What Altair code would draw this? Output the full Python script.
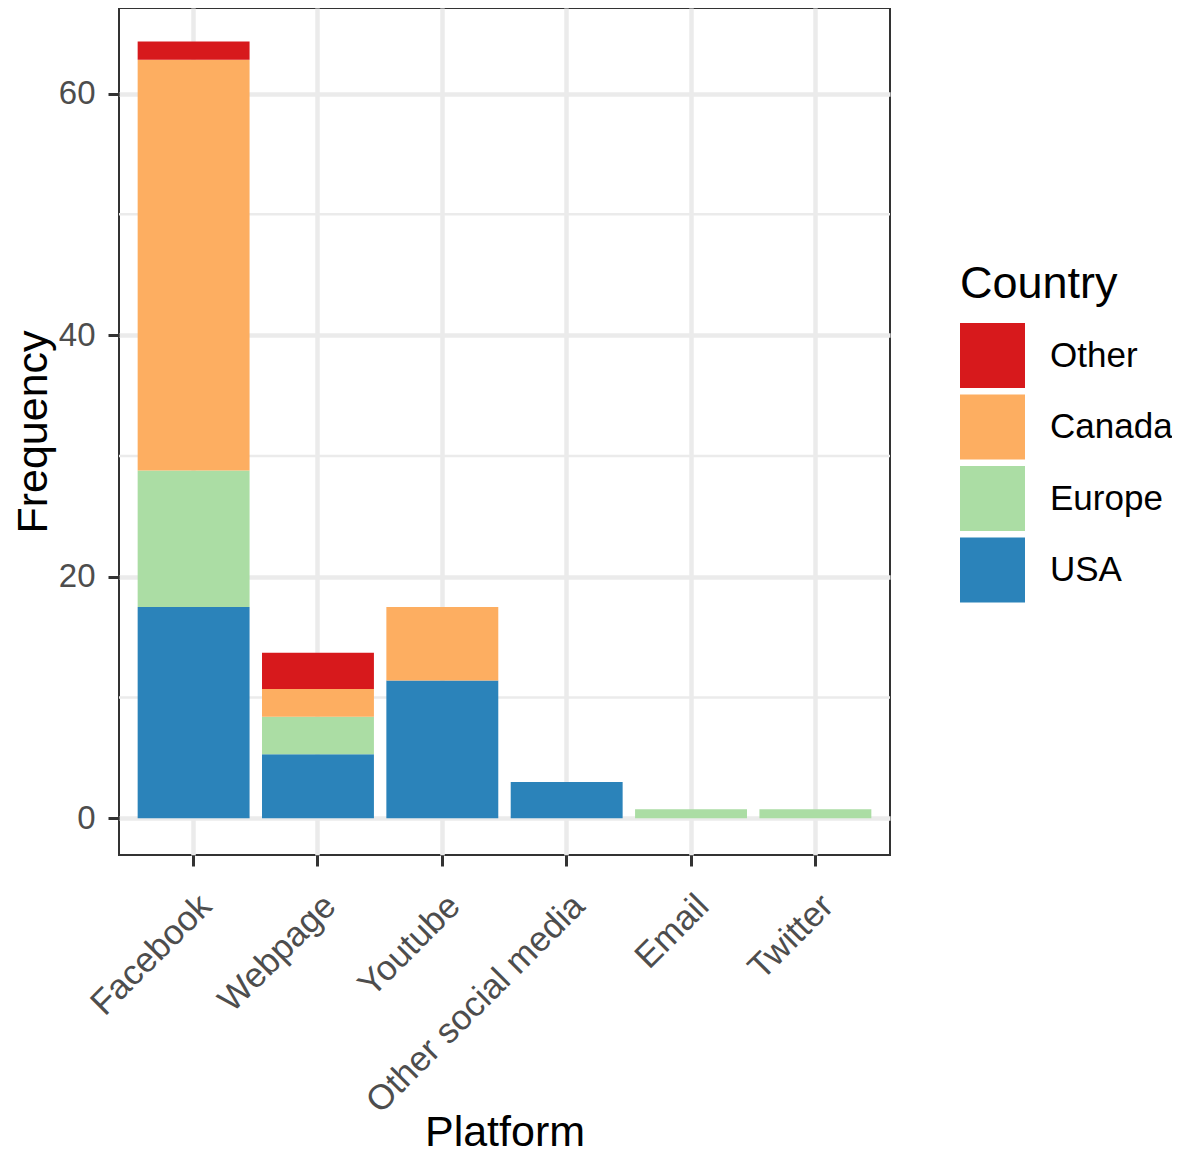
import altair as alt
import pandas as pd

platforms = ["Facebook", "Webpage", "Youtube", "Other social media", "Email", "Twitter"]
countries = ["Other", "Canada", "Europe", "USA"]
colors = ["#d7191c", "#fdae61", "#abdda4", "#2b83ba"]

usa = [17.5, 5.3, 11.4, 3.0, 0, 0]
europe = [11.3, 3.1, 0, 0, 0.75, 0.75]
canada = [34.0, 2.3, 6.1, 0, 0, 0]
other = [1.5, 3.0, 0, 0, 0, 0]

y_ticks = [0, 20, 40, 60]
y_minor = [10, 30, 50]
y_domain = [-3.04, 67.08]

series = {"USA": usa, "Europe": europe, "Canada": canada, "Other": other}
stack_rank = {"USA": 0, "Europe": 1, "Canada": 2, "Other": 3}

rows = []
for c, vals in series.items():
    for p, v in zip(platforms, vals):
        if v > 0:
            rows.append({"Platform": p, "Country": c, "Frequency": v, "rank": stack_rank[c]})
df = pd.DataFrame(rows)
minor_df = pd.DataFrame({"Frequency": y_minor})

FONT = "Liberation Sans"

yscale = alt.Scale(domain=y_domain, nice=False, zero=False)

minor = alt.Chart(minor_df).mark_rule(color="#ebebeb", strokeWidth=2.5).encode(
    y=alt.Y("Frequency:Q", scale=yscale)
)

bars = alt.Chart(df).mark_bar().encode(
    x=alt.X(
        "Platform:N",
        sort=platforms,
        scale=alt.Scale(paddingInner=0.1, paddingOuter=0.15),
        axis=alt.Axis(
            title="Platform",
            labelAngle=-45,
            labelAlign="right",
            labelBaseline="top",
            labelPadding=22,
            labelOffset=0,
            labelLimit=600,
            labelFontSize=35,
            bandPosition=0.5,
            grid=True,
            titleX=385.5,
            titleY=290,
            titleBaseline="alphabetic",
            titleAlign="center",
        ),
    ),
    y=alt.Y(
        "Frequency:Q",
        stack="zero",
        scale=yscale,
        axis=alt.Axis(
            values=y_ticks,
            title="Frequency",
            labelPadding=13,
            labelFontSize=33,
            titleX=-73,
            titleY=423.5,
            titleAngle=270,
            titleBaseline="alphabetic",
            titleAlign="center",
        ),
    ),
    color=alt.Color(
        "Country:N",
        scale=alt.Scale(domain=countries, range=colors),
        legend=alt.Legend(
            title="Country",
            orient="none",
            legendX=841,
            legendY=254,
            symbolType="square",
            symbolSize=4225,
            symbolStrokeWidth=0,
            symbolOpacity=1,
            titleFontSize=45,
            labelFontSize=35,
            titlePadding=16,
            rowPadding=6.5,
            labelOffset=25,
            labelLimit=400,
            padding=0,
        ),
    ),
    order=alt.Order("rank:Q", sort="ascending"),
)

chart = (
    alt.layer(minor, bars)
    .properties(
        width=771,
        height=847,
        autosize=alt.AutoSizeParams(type="none"),
        padding={"left": 111, "top": 0, "right": 282, "bottom": 299},
    )
    .configure_view(stroke="#333333", strokeWidth=2)
    .configure_axis(
        gridColor="#ebebeb",
        gridWidth=4.5,
        domain=False,
        tickColor="#333333",
        tickWidth=3,
        tickSize=11,
        labelFont=FONT,
        labelColor="#4d4d4d",
        titleFont=FONT,
        titleFontSize=43,
        titleColor="black",
        titleFontWeight="normal",
    )
    .configure_legend(
        titleFont=FONT,
        labelFont=FONT,
        titleColor="black",
        labelColor="black",
        titleFontWeight="normal",
    )
)

chart.save("out.html", embed_options={"renderer": "svg", "actions": False})
